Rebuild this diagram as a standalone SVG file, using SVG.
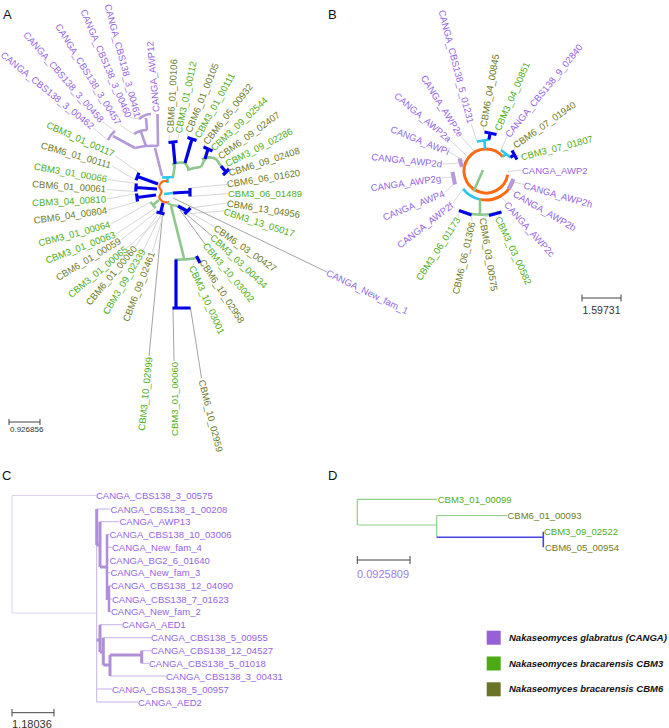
<svg xmlns="http://www.w3.org/2000/svg" width="669" height="728" viewBox="0 0 669 728">
<style>
text{font-family:"Liberation Sans",Arial,sans-serif;font-size:9.5px;dominant-baseline:central}
.P{fill:#9664e6}.G{fill:#4fae16}.O{fill:#6e7a25}
.e{text-anchor:end}.m{text-anchor:middle}
.lead{stroke:#cdcdcd;stroke-width:0.8;fill:none}
.dk{stroke:#8c8c8c;stroke-width:0.8;fill:none}
.bl{stroke:#0000e8;stroke-width:3.2;fill:none}
.gr{stroke:#8cc78c;stroke-width:2.6;fill:none}
.pu{stroke:#b49ad8;stroke-width:2.6;fill:none}
.pu4{stroke:#b49ad8;stroke-width:4;fill:none}
.or{stroke:#ff6a14;stroke-width:2.2;fill:none}
.or3{stroke:#ff6a14;stroke-width:3;fill:none}
.cy{stroke:#2ec6ee;stroke-width:2.6;fill:none}
.cth{stroke:#c7b2ea;stroke-width:1;fill:none}
.cpk{stroke:#b08fd8;stroke-width:3;fill:none}
.root{stroke:#dcd0f0;stroke-width:1;fill:none}
.dg{stroke:#8fd18a;stroke-width:1.2;fill:none}
.db{stroke:#4545e6;stroke-width:1.6;fill:none}
.sb{stroke:#444;stroke-width:1;fill:none}
.lt{font-size:13px;fill:#111;dominant-baseline:auto}
.num{fill:#333}
.leg{font-weight:bold;font-style:italic;fill:#111}
</style>

<!-- Panel letters -->
<text class="lt" x="3" y="19">A</text>
<text class="lt" x="328" y="19">B</text>
<text class="lt" x="2" y="480">C</text>
<text class="lt" x="328" y="480">D</text>

<!-- ============ PANEL A ============ -->
<g id="A-connectors">
  <path class="lead" d="M108,140 L93,128 M115,131 L103,122 M134,134 L120,125 M139,119 L130,117.5 M145,116 L138,116"/>
  <path class="lead" d="M168.5,142.5 L170,134.5 M177.5,141.5 L178.5,134.5 M187.5,137.5 L188,133.5 M196.5,140.5 L197.5,138 M203.5,147 L205,144 M212.5,151 L213,149.5 M216,159 L219,157.5 M229,169 L226.5,165 M223,175 L229,173.5"/>
  <path class="lead" d="M190,188 L227,184.5 M190,196.5 L228,193.5 M190.5,208 L227,203 M184.5,214 L224,211 M178,206 L215,227 M197,260 L192.5,265.5 M200,259 L202,260"/>
  <path class="dk" d="M179,208 L212,236 M180,210 L205,244"/>
  <path class="dk" d="M173,198 L327,272 M163,210 L149,356 M173,308 L174,361 M190.5,308 L201.5,378"/>
  <path class="lead" d="M138.9,172.7 L115,155.5 M136.1,180.3 L112,166 M136.3,183.5 L108,179.5 M135.7,191.5 L107,189.5 M136.5,193.5 L107,199 M137.5,201.5 L108,210 M150.5,202 L111,224 M155.5,208 L116,234 M156.5,212 L121,240 M164.5,214 L127,248 M163,207 L135,247 M164,208 L143.5,250 M165,209 L152.5,252"/>
  <path class="pu" d="M162,176 L155,148 M135,148 Q146,145 158,146 M135,148 L113,136 M108,140 Q110,135 115,131 M146,146 L141,132 M134,134 Q140,130 147,130 M147,130 L146,118 M139,119 Q145,114 151,114 M158,146 L157.5,114"/>
  <path class="cy" d="M162,177.5 L174,177 M167.5,177.5 L167.5,183 M164,194 L173,193"/>
  <path class="or" d="M168,181 C161,180 157,186 161,190 C164,193 157,195 160,199 C162,202 165,203 169,202"/>
  <path class="gr" d="M173,177 L175,164 M172,164.5 Q178,161.5 185,163 M185,163 L189,169 M187,170 Q194,167.5 201,167 M201,167 L205,159 M202,159.5 Q209,155.5 216,159 M216,159 L221,166"/>
  <path class="gr" d="M167,203 Q172,206 178,206 M171,206 L184,258 M175,259.5 Q186,260 197,258 M159,200 L153,205"/>
  <path class="gr" d="M150.5,202 L155.5,208"/>
  <path class="bl" d="M175,164 L173,142 M168.5,142.5 L177.5,141.5 M185,163 L192,139 M187.5,137.5 L196.5,140.5 M205,159 L208,149 M203.5,147 L212.5,151 M221,166 L226,172 M223,175 L229,169"/>
  <path class="bl" d="M173,193 L190,192 M190,188 L190,196.5 M178,206 L187,211 M184.5,214 L190.5,208"/>
  <path class="bl" d="M176,259.5 L176,308 M172.5,308 L190.5,308 M196.5,256 L200,263"/>
  <path class="bl" d="M158,184 L137.5,176.5 M138.9,172.7 L136.1,180.3 M157,189 L136,187.5 M136.3,183.5 L135.7,191.5 M156,195 L137,197.5 M136.5,193.5 L137.5,201.5 M163,203 L160.5,213 M156.5,212 L164.5,214"/>
</g>
<g id="A-labels">
  <g id="A_CANGA_CBS138_3_00462" transform="translate(93,127) rotate(39)"><text class="P e">CANGA_CBS138_3_00462</text></g>
  <g id="A_CANGA_CBS138_3_00458" transform="translate(102,121) rotate(49)"><text class="P e">CANGA_CBS138_3_00458</text></g>
  <g id="A_CANGA_CBS138_3_00457" transform="translate(119,124) rotate(58.5)"><text class="P e">CANGA_CBS138_3_00457</text></g>
  <g id="A_CANGA_CBS138_3_00460" transform="translate(129,117) rotate(67)"><text class="P e">CANGA_CBS138_3_00460</text></g>
  <g id="A_CANGA_CBS138_3_00461" transform="translate(138,117) rotate(75)"><text class="P e">CANGA_CBS138_3_00461</text></g>
  <g id="A_CANGA_AWP12" transform="translate(156,112) rotate(-95)"><text class="P">CANGA_AWP12</text></g>
  <g id="A_CBM6_01_00106" transform="translate(170,133) rotate(-87)"><text class="O">CBM6_01_00106</text></g>
  <g id="A_CBM3_01_00112" transform="translate(178,133) rotate(-78)"><text class="G">CBM3_01_00112</text></g>
  <g id="A_CBM6_01_00105" transform="translate(188,132) rotate(-68)"><text class="O">CBM6_01_00105</text></g>
  <g id="A_CBM3_01_00111" transform="translate(197,137) rotate(-61)"><text class="G">CBM3_01_00111</text></g>
  <g id="A_CBM6_05_00932" transform="translate(205,143) rotate(-52)"><text class="O">CBM6_05_00932</text></g>
  <g id="A_CBM3_09_02544" transform="translate(212,149) rotate(-43)"><text class="G">CBM3_09_02544</text></g>
  <g id="A_CBM6_09_02407" transform="translate(219,157) rotate(-36)"><text class="O">CBM6_09_02407</text></g>
  <g id="A_CBM3_09_02286" transform="translate(226,164) rotate(-27)"><text class="G">CBM3_09_02286</text></g>
  <g id="A_CBM6_09_02408" transform="translate(229,173) rotate(-18)"><text class="O">CBM6_09_02408</text></g>
  <g id="A_CBM6_06_01620" transform="translate(227,184) rotate(-9)"><text class="O">CBM6_06_01620</text></g>
  <g id="A_CBM3_06_01489" transform="translate(228,193) rotate(0)"><text class="G">CBM3_06_01489</text></g>
  <g id="A_CBM6_13_04956" transform="translate(227,203) rotate(9)"><text class="O">CBM6_13_04956</text></g>
  <g id="A_CBM3_13_05017" transform="translate(224,211) rotate(18)"><text class="G">CBM3_13_05017</text></g>
  <g id="A_CBM6_03_00427" transform="translate(215,227) rotate(35)"><text class="O">CBM6_03_00427</text></g>
  <g id="A_CBM3_03_00434" transform="translate(212,236) rotate(43)"><text class="G">CBM3_03_00434</text></g>
  <g id="A_CBM3_10_03002" transform="translate(205,244) rotate(50)"><text class="G">CBM3_10_03002</text></g>
  <g id="A_CBM6_10_02958" transform="translate(202,260) rotate(57)"><text class="O">CBM6_10_02958</text></g>
  <g id="A_CBM3_10_03001" transform="translate(192,266) rotate(66)"><text class="G">CBM3_10_03001</text></g>
  <g id="A_CANGA_New_fam_1" transform="translate(327,272) rotate(26)"><text class="P">CANGA_New_fam_1</text></g>
  <g id="A_CBM6_10_02959" transform="translate(202,380) rotate(76)"><text class="O">CBM6_10_02959</text></g>
  <g id="A_CBM3_01_00060" transform="translate(174,362) rotate(-90)"><text class="G e">CBM3_01_00060</text></g>
  <g id="A_CBM3_10_02999" transform="translate(149,357) rotate(-84)"><text class="G e">CBM3_10_02999</text></g>
  <g id="A_CBM6_09_02461" transform="translate(152,252) rotate(-69)"><text class="O e">CBM6_09_02461</text></g>
  <g id="A_CBM3_09_02339" transform="translate(143,250) rotate(-59)"><text class="G e">CBM3_09_02339</text></g>
  <g id="A_CBM6_01_00060" transform="translate(135,247) rotate(-50)"><text class="O e">CBM6_01_00060</text></g>
  <g id="A_CBM3_01_00065" transform="translate(126,248) rotate(-40)"><text class="G e">CBM3_01_00065</text></g>
  <g id="A_CBM6_01_00059" transform="translate(120,240) rotate(-31)"><text class="O e">CBM6_01_00059</text></g>
  <g id="A_CBM3_01_00063" transform="translate(115,234) rotate(-21)"><text class="G e">CBM3_01_00063</text></g>
  <g id="A_CBM3_01_00064" transform="translate(110,224) rotate(-15)"><text class="G e">CBM3_01_00064</text></g>
  <g id="A_CBM6_04_00804" transform="translate(107,210) rotate(-8)"><text class="O e">CBM6_04_00804</text></g>
  <g id="A_CBM3_04_00810" transform="translate(106,199) rotate(-3)"><text class="G e">CBM3_04_00810</text></g>
  <g id="A_CBM6_01_00061" transform="translate(106,189) rotate(4)"><text class="O e">CBM6_01_00061</text></g>
  <g id="A_CBM3_01_00066" transform="translate(107,179) rotate(10)"><text class="G e">CBM3_01_00066</text></g>
  <g id="A_CBM6_01_00111" transform="translate(111,165) rotate(16)"><text class="O e">CBM6_01_00111</text></g>
  <g id="A_CBM3_01_00117" transform="translate(114,154) rotate(24)"><text class="G e">CBM3_01_00117</text></g>
</g>
<g id="A-scale">
  <path class="sb" d="M9,422 H40 M9,419 V425 M40,419 V425"/>
  <text class="num" x="10" y="429.5" style="font-size:8px">0.926856</text>
</g>

<!-- ============ PANEL B ============ -->
<g id="B-connectors">
  <path class="lead" d="M475,152 L461,136.5 M477,141.5 L471,123.5 M468.5,157.5 L450.5,140.5 M465.5,162 L449.5,152 M460,163 L442.5,164 M453,177 L441.5,178 M455,183 L444.5,192.5 M463,189 L452.5,203.5"/>
  <path class="lead" d="M459,212 L458,217.5 M471.5,215 L472,221.5 M489,215.5 L483.5,217.5 M501.5,212 L498.5,216.5 M500.5,196 L506.5,202.5 M510.5,188 L514.5,192.5 M513.5,182 L524,184.5 M508,171.5 L522,170 M516,155 L521,156.5 M514,151 L514.5,146.5 M501,150 L507,136.5 M496.5,134.5 L497.5,130.5 M484.5,132 L483.5,127.5"/>
  <path class="or3" d="M507.7,174.8 A22,22 0 1 1 502.9,156.9"/>
  <path class="or3" d="M512.9,181.9 A29,29 0 0 1 480,199.4"/>
  <path class="cy" d="M480,199.4 A29,29 0 0 1 463.1,188.9"/>
  <path class="gr" d="M483,170 L473.5,191.5 M480,199.4 L480,214 M460,211 Q480,218 501,212"/>
  <path class="cy" d="M485,149 L484.5,141 M477,141.5 L490,139.5 M502.9,156.9 L506,153.5 M501,150 L510.5,157.5"/>
  <path class="bl" d="M489,139.5 L490,133.5 M484.5,132 L496.5,134.5 M510.5,157.5 L513,155.5 M512,150.5 L517,159.5"/>
  <path class="bl" d="M459,210.5 L471.5,215 M489,215.5 L501.5,212"/>
  <path class="pu4" d="M459.5,158.5 L462,167 M452.5,172 L455,184.5 M508.5,189 L513.5,179"/>
</g>
<g id="B-labels">
  <g id="B_CANGA_CBS138_5_01231" transform="translate(471,123) rotate(75.5)"><text class="P e">CANGA_CBS138_5_01231</text></g>
  <g id="B_CANGA_AWP2e" transform="translate(461,136) rotate(58)"><text class="P e">CANGA_AWP2e</text></g>
  <g id="B_CANGA_AWP2a" transform="translate(450,140) rotate(40)"><text class="P e">CANGA_AWP2a</text></g>
  <g id="B_CANGA_AWPi" transform="translate(449,152) rotate(22)"><text class="P e">CANGA_AWPi</text></g>
  <g id="B_CANGA_AWP2d" transform="translate(442,164) rotate(6)"><text class="P e">CANGA_AWP2d</text></g>
  <g id="B_CANGA_AWP2g" transform="translate(441,178) rotate(-8)"><text class="P e">CANGA_AWP2g</text></g>
  <g id="B_CANGA_AWP4" transform="translate(444,193) rotate(-22)"><text class="P e">CANGA_AWP4</text></g>
  <g id="B_CANGA_AWP2f" transform="translate(452,204) rotate(-38)"><text class="P e">CANGA_AWP2f</text></g>
  <g id="B_CBM3_06_01173" transform="translate(458,218) rotate(-57)"><text class="G e">CBM3_06_01173</text></g>
  <g id="B_CBM6_06_01306" transform="translate(472,222) rotate(-77)"><text class="O e">CBM6_06_01306</text></g>
  <g id="B_CBM6_03_00575" transform="translate(483,218) rotate(81)"><text class="O">CBM6_03_00575</text></g>
  <g id="B_CBM3_03_00582" transform="translate(498,217) rotate(65)"><text class="G">CBM3_03_00582</text></g>
  <g id="B_CANGA_AWP2c" transform="translate(506,203) rotate(48)"><text class="P">CANGA_AWP2c</text></g>
  <g id="B_CANGA_AWP2b" transform="translate(514,193) rotate(30)"><text class="P">CANGA_AWP2b</text></g>
  <g id="B_CANGA_AWP2h" transform="translate(524,185) rotate(16)"><text class="P">CANGA_AWP2h</text></g>
  <g id="B_CANGA_AWP2" transform="translate(522,170) rotate(0)"><text class="P">CANGA_AWP2</text></g>
  <g id="B_CBM3_07_01807" transform="translate(521,157) rotate(-14.5)"><text class="G">CBM3_07_01807</text></g>
  <g id="B_CBM6_07_01940" transform="translate(514,146) rotate(-35)"><text class="O">CBM6_07_01940</text></g>
  <g id="B_CANGA_CBS138_9_02840" transform="translate(507,136) rotate(-51)"><text class="P">CANGA_CBS138_9_02840</text></g>
  <g id="B_CBM3_04_00851" transform="translate(497,130) rotate(-66)"><text class="G">CBM3_04_00851</text></g>
  <g id="B_CBM6_04_00845" transform="translate(483,127) rotate(-80)"><text class="O">CBM6_04_00845</text></g>
</g>
<g id="B-scale">
  <path class="sb" d="M582,298 H621 M582,294.5 V301.5 M621,294.5 V301.5"/>
  <text class="num m" x="601.5" y="309.5" style="font-size:10.5px">1.59731</text>
</g>

<!-- ============ PANEL C ============ -->
<g id="C-connectors">
  <path class="root" d="M12,495.5 V613 M12,495.5 H96 M12,613 H96.7"/>
  <path class="cth" d="M96.7,509 V702 M96.7,509 H110 M100,521.7 H119 M107,534.3 H109 M107,547.3 H112 M107,560 H109 M107,572.7 H110 M109,585.7 H111 M109,599 H112 M109,611.7 H111 M100,624.7 H122 M103.3,637.7 H151 M141.7,650.7 H151 M141.7,663.3 H149 M110,676 H166 M96.7,689 H112 M96.7,702 H138 M96.7,545 H100 M100,567 H107 M107,592 H109 M96.7,640 H100 M100,652 H103.3 M103.3,665 H110"/>
  <path class="cpk" d="M96.7,509 V545 M100,521.7 V567 M96.7,545 H100 M100,567 H107"/>
  <path class="cpk" style="stroke-width:2.5" d="M107,534.3 V600 M109,586 V612"/>
  <path class="cpk" d="M96.7,640 H100 M100,624.7 V652 M100,652 H103.3 M103.3,637.7 V665 M103.3,665 H110 M110,655 V676 M110,655 H141.7 M141.7,650.7 V663.3"/>
</g>
<g id="C-labels">
  <g id="C_CANGA_CBS138_3_00575"><text class="P" x="96" y="495.5">CANGA_CBS138_3_00575</text></g>
  <g id="C_CANGA_CBS138_1_00208"><text class="P" x="110.5" y="509">CANGA_CBS138_1_00208</text></g>
  <g id="C_CANGA_AWP13"><text class="P" x="119.5" y="521.7">CANGA_AWP13</text></g>
  <g id="C_CANGA_CBS138_10_03006"><text class="P" x="109.5" y="534.3">CANGA_CBS138_10_03006</text></g>
  <g id="C_CANGA_New_fam_4"><text class="P" x="112" y="547.3">CANGA_New_fam_4</text></g>
  <g id="C_CANGA_BG2_6_01640"><text class="P" x="109.5" y="560">CANGA_BG2_6_01640</text></g>
  <g id="C_CANGA_New_fam_3"><text class="P" x="110.5" y="572.7">CANGA_New_fam_3</text></g>
  <g id="C_CANGA_CBS138_12_04090"><text class="P" x="111" y="585.7">CANGA_CBS138_12_04090</text></g>
  <g id="C_CANGA_CBS138_7_01623"><text class="P" x="112" y="599">CANGA_CBS138_7_01623</text></g>
  <g id="C_CANGA_New_fam_2"><text class="P" x="111" y="611.7">CANGA_New_fam_2</text></g>
  <g id="C_CANGA_AED1"><text class="P" x="122" y="624.7">CANGA_AED1</text></g>
  <g id="C_CANGA_CBS138_5_00955"><text class="P" x="151" y="637.7">CANGA_CBS138_5_00955</text></g>
  <g id="C_CANGA_CBS138_12_04527"><text class="P" x="151" y="650.7">CANGA_CBS138_12_04527</text></g>
  <g id="C_CANGA_CBS138_5_01018"><text class="P" x="149" y="663.3">CANGA_CBS138_5_01018</text></g>
  <g id="C_CANGA_CBS138_3_00431"><text class="P" x="166" y="676">CANGA_CBS138_3_00431</text></g>
  <g id="C_CANGA_CBS138_5_00957"><text class="P" x="112" y="689">CANGA_CBS138_5_00957</text></g>
  <g id="C_CANGA_AED2"><text class="P" x="138" y="702">CANGA_AED2</text></g>
</g>
<g id="C-scale">
  <path class="sb" d="M12,712.7 H54 M12,709 V716.5 M54,709 V716.5"/>
  <text class="num" x="12" y="723.5" style="font-size:11px">1.18036</text>
</g>

<!-- ============ PANEL D ============ -->
<g id="D-connectors">
  <path class="dg" d="M357.3,499.3 V525 M357.3,499.3 H437 M357.3,525 H436.7 M436.7,515.5 V537.3 M436.7,515.5 H507"/>
  <path class="db" d="M436.7,537.3 H543.3 M543.3,531.7 V547.3"/>
</g>
<g id="D-labels">
  <g id="D_CBM3_01_00099"><text class="G" x="437.7" y="499.3">CBM3_01_00099</text></g>
  <g id="D_CBM6_01_00093"><text class="O" x="507.5" y="515.5">CBM6_01_00093</text></g>
  <g id="D_CBM3_09_02522"><text class="G" x="544" y="531.7">CBM3_09_02522</text></g>
  <g id="D_CBM6_05_00954"><text class="O" x="545" y="547.3">CBM6_05_00954</text></g>
</g>
<g id="D-scale">
  <path class="sb" d="M357.3,560 H410 M357.3,556 V564 M410,556 V564"/>
  <text x="357" y="573.5" style="font-size:11px;fill:#a07ee8">0.0925809</text>
</g>

<!-- ============ LEGEND ============ -->
<g id="legend">
  <g id="legend-canga"><rect x="486.7" y="630.7" width="14" height="14" fill="#9860d8"/><text class="leg" x="509" y="637.2">Nakaseomyces glabratus (CANGA)</text></g>
  <g id="legend-cbm3"><rect x="486.7" y="656.5" width="14" height="14" fill="#4cab14"/><text class="leg" x="509" y="663">Nakaseomyces bracarensis CBM3</text></g>
  <g id="legend-cbm6"><rect x="486.7" y="682.3" width="14" height="14" fill="#6b7426"/><text class="leg" x="509" y="688.8">Nakaseomyces bracarensis CBM6</text></g>
</g>
</svg>
